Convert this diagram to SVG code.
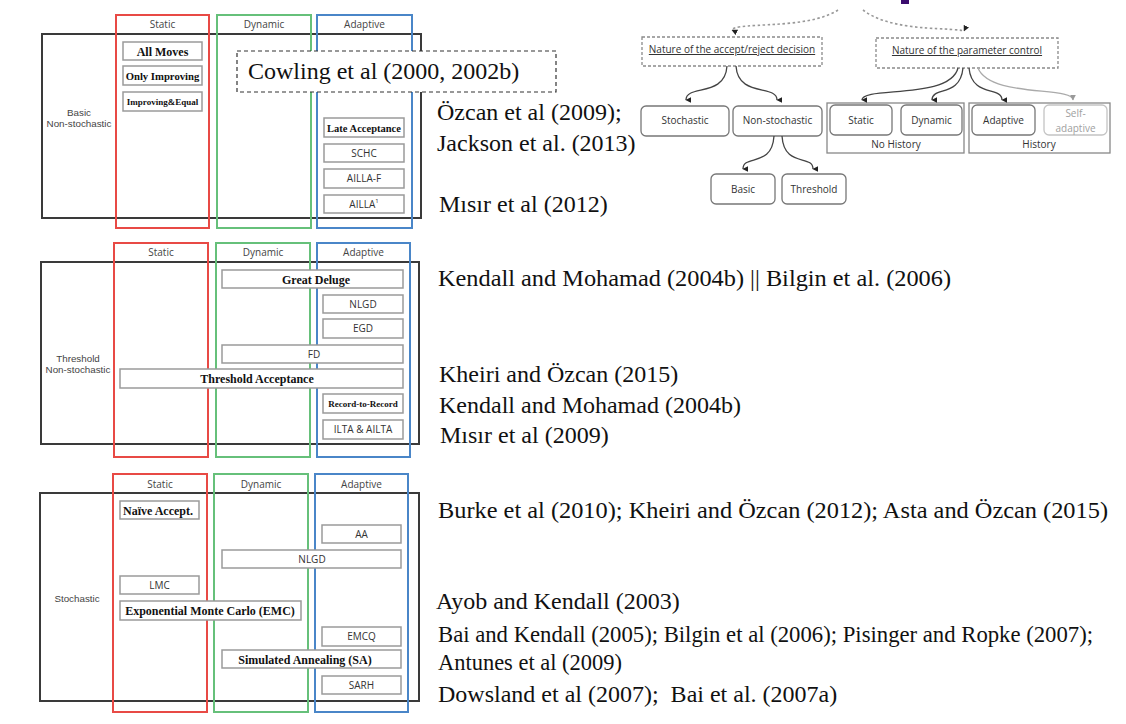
<svg xmlns="http://www.w3.org/2000/svg" width="1126" height="724" viewBox="0 0 1126 724">
<defs>
<style>
.frame{fill:none;stroke:#3a3a3a;stroke-width:2}
.red{fill:none;stroke:#e84a45;stroke-width:2}
.green{fill:none;stroke:#66c07a;stroke-width:2}
.blue{fill:none;stroke:#4a86c8;stroke-width:2}
.box{fill:#fff;stroke:#9a9a9a;stroke-width:1.5}
.hdr{font-family:"Open Sans",sans-serif;font-size:10px;fill:#444;text-anchor:middle}
.lbl{font-family:"Liberation Sans",Arial,sans-serif;font-size:9.8px;fill:#444;text-anchor:middle}
.bs{font-family:"Liberation Serif",serif;font-weight:bold;fill:#111;text-anchor:middle}
.ss{font-family:"Open Sans",sans-serif;font-size:10px;fill:#333;text-anchor:middle}
.ref{font-family:"Liberation Serif",serif;font-size:24px;fill:#111}
.dash{fill:#fff;stroke:#333;stroke-width:1.2;stroke-dasharray:4,3}
.tdash{fill:none;stroke:#8a8a8a;stroke-width:1.3;stroke-dasharray:3,2}
.tbox{fill:#fff;stroke:#777;stroke-width:1.3}
.tgrp{fill:none;stroke:#888;stroke-width:1.3}
.tt{font-family:"Open Sans",sans-serif;font-size:10px;fill:#333;text-anchor:middle}
.conn{fill:none;stroke:#444;stroke-width:1.3}
.topd{fill:none;stroke:#999;stroke-width:1.6;stroke-dasharray:2.5,2.5}
</style>
<marker id="ah" viewBox="0 0 10 10" refX="5" refY="9" markerWidth="6" markerHeight="6" markerUnits="userSpaceOnUse" orient="auto-start-reverse">
<path d="M0,0 L10,0 L5,10 z" fill="#222"/>
</marker>
<marker id="ahg" viewBox="0 0 10 10" refX="5" refY="9" markerWidth="6" markerHeight="6" markerUnits="userSpaceOnUse">
<path d="M0,0 L10,0 L5,10 z" fill="#999"/>
</marker>
</defs>
<rect width="1126" height="724" fill="#fff"/>

<!-- Panel 1: Basic Non-stochastic -->
<g id="panel-basic">
<rect class="frame" x="42" y="34" width="379" height="184"/>
<rect class="red" x="116" y="15" width="93" height="213"/>
<rect class="green" x="217" y="15" width="94" height="213"/>
<rect class="blue" x="317" y="15" width="95" height="213"/>
<text class="hdr" x="162.5" y="28">Static</text>
<text class="hdr" x="264" y="28">Dynamic</text>
<text class="hdr" x="364.5" y="28">Adaptive</text>
<text class="lbl" x="79" y="115.5">Basic</text>
<text class="lbl" x="79" y="127">Non-stochastic</text>
</g>
<g id="n-allmoves"><rect class="box" x="123" y="42" width="79" height="18"/><text class="bs" x="162.5" y="55.5" font-size="12">All Moves</text></g>
<g id="n-onlyimp"><rect class="box" x="123" y="66" width="79" height="19"/><text class="bs" x="162.5" y="79.5" font-size="10.7">Only Improving</text></g>
<g id="n-impeq"><rect class="box" x="123" y="92" width="79" height="19"/><text class="bs" x="162.5" y="105" font-size="9">Improving&amp;Equal</text></g>
<g id="n-late"><rect class="box" x="324" y="118" width="80" height="19"/><text class="bs" x="364" y="131.5" font-size="10.5">Late Acceptance</text></g>
<g id="n-schc"><rect class="box" x="324" y="144" width="80" height="18"/><text class="ss" x="364" y="157">SCHC</text></g>
<g id="n-aillaf"><rect class="box" x="324" y="169" width="80" height="19"/><text class="ss" x="364" y="182">AILLA-F</text></g>
<g id="n-ailla"><rect class="box" x="324" y="195" width="80" height="18"/><text class="ss" x="364" y="208">AILLA<tspan font-size="6" dy="-5">1</tspan></text></g>
<g id="n-cowling"><rect class="dash" x="237" y="51" width="319" height="41"/><text class="ref" x="248" y="79">Cowling et al (2000, 2002b)</text></g>

<!-- Panel 2: Threshold Non-stochastic -->
<g id="panel-threshold">
<rect class="frame" x="41" y="262" width="378" height="182"/>
<rect class="red" x="114" y="243" width="94" height="214"/>
<rect class="green" x="216" y="243" width="94" height="214"/>
<rect class="blue" x="317" y="243" width="93" height="214"/>
<text class="hdr" x="161" y="256">Static</text>
<text class="hdr" x="263" y="256">Dynamic</text>
<text class="hdr" x="363.5" y="256">Adaptive</text>
<text class="lbl" x="78" y="361.5">Threshold</text>
<text class="lbl" x="78" y="373">Non-stochastic</text>
</g>
<g id="n-gd"><rect class="box" x="222" y="270" width="181" height="18"/><text class="bs" x="316" y="283.5" font-size="12">Great Deluge</text></g>
<g id="n-nlgd1"><rect class="box" x="323" y="295" width="80" height="18"/><text class="ss" x="363" y="308">NLGD</text></g>
<g id="n-egd"><rect class="box" x="323" y="319" width="80" height="19"/><text class="ss" x="363" y="332">EGD</text></g>
<g id="n-fd"><rect class="box" x="222" y="345" width="181" height="18"/><text class="ss" x="314" y="358">FD</text></g>
<g id="n-ta"><rect class="box" x="120" y="369" width="283" height="19"/><text class="bs" x="257" y="383" font-size="12">Threshold Acceptance</text></g>
<g id="n-rtr"><rect class="box" x="323" y="394" width="80" height="19"/><text class="bs" x="363" y="407" font-size="9">Record-to-Record</text></g>
<g id="n-ilta"><rect class="box" x="323" y="420" width="80" height="19"/><text class="ss" x="363" y="433">ILTA &amp; AILTA</text></g>

<!-- Panel 3: Stochastic -->
<g id="panel-stochastic">
<rect class="frame" x="40" y="493" width="379" height="208"/>
<rect class="red" x="113" y="474" width="94" height="238"/>
<rect class="green" x="214" y="474" width="94" height="238"/>
<rect class="blue" x="315" y="474" width="93" height="238"/>
<text class="hdr" x="160" y="488">Static</text>
<text class="hdr" x="261" y="488">Dynamic</text>
<text class="hdr" x="361.5" y="488">Adaptive</text>
<text class="lbl" x="77" y="602">Stochastic</text>
</g>
<g id="n-naive"><rect class="box" x="120" y="501" width="79" height="18"/><text class="bs" x="158" y="514.5" font-size="12">Naïve Accept.</text></g>
<g id="n-aa"><rect class="box" x="322" y="525" width="79" height="18"/><text class="ss" x="361.5" y="538">AA</text></g>
<g id="n-nlgd2"><rect class="box" x="222" y="550" width="179" height="18"/><text class="ss" x="312" y="563">NLGD</text></g>
<g id="n-lmc"><rect class="box" x="120" y="576" width="79" height="18"/><text class="ss" x="159.5" y="589">LMC</text></g>
<g id="n-emc"><rect class="box" x="120" y="601" width="181" height="19"/><text class="bs" x="210" y="615" font-size="12">Exponential Monte Carlo (EMC)</text></g>
<g id="n-emcq"><rect class="box" x="322" y="627" width="79" height="19"/><text class="ss" x="361.5" y="640">EMCQ</text></g>
<g id="n-sa"><rect class="box" x="222" y="650" width="179" height="18"/><text class="bs" x="305" y="663.5" font-size="12">Simulated Annealing (SA)</text></g>
<g id="n-sarh"><rect class="box" x="322" y="676" width="79" height="18"/><text class="ss" x="361.5" y="689">SARH</text></g>

<!-- References -->
<g id="refs">
<text class="ref" x="437" y="120">Özcan et al (2009);</text>
<text class="ref" x="437" y="151">Jackson et al. (2013)</text>
<text class="ref" x="439" y="212">Mısır et al (2012)</text>
<text class="ref" x="438" y="286" textLength="513" lengthAdjust="spacingAndGlyphs">Kendall and Mohamad (2004b) || Bilgin et al. (2006)</text>
<text class="ref" x="439" y="382">Kheiri and Özcan (2015)</text>
<text class="ref" x="439" y="413">Kendall and Mohamad (2004b)</text>
<text class="ref" x="440" y="443">Mısır et al (2009)</text>
<text class="ref" x="438" y="518" textLength="670" lengthAdjust="spacingAndGlyphs">Burke et al (2010); Kheiri and Özcan (2012); Asta and Özcan (2015)</text>
<text class="ref" x="436" y="609">Ayob and Kendall (2003)</text>
<text class="ref" x="438" y="642" font-size="23" style="font-size:23px" textLength="655" lengthAdjust="spacingAndGlyphs">Bai and Kendall (2005); Bilgin et al (2006); Pisinger and Ropke (2007);</text>
<text class="ref" x="438" y="670" style="font-size:23px" textLength="184" lengthAdjust="spacingAndGlyphs">Antunes et al (2009)</text>
<text class="ref" x="438" y="702" xml:space="preserve">Dowsland et al (2007);  Bai et al. (2007a)</text>
</g>

<!-- Tree -->
<rect x="901" y="0" width="8" height="4" fill="#3b0d6e"/>
<g id="t-accept"><rect class="tdash" x="642" y="37" width="180" height="29"/><text class="tt" x="732" y="53" text-decoration="underline">Nature of the accept/reject decision</text></g>
<g id="t-param"><rect class="tdash" x="876" y="38" width="182" height="30"/><text class="tt" x="967" y="54" text-decoration="underline">Nature of the parameter control</text></g>
<g id="t-stoch"><rect class="tbox" x="641" y="106" width="88" height="30" rx="5"/><text class="tt" x="685" y="124">Stochastic</text></g>
<g id="t-nonstoch"><rect class="tbox" x="733" y="106" width="89" height="30" rx="5"/><text class="tt" x="777.5" y="124">Non-stochastic</text></g>
<g id="t-basic"><rect class="tbox" x="711" y="174" width="64" height="30" rx="5"/><text class="tt" x="743" y="193">Basic</text></g>
<g id="t-threshold"><rect class="tbox" x="782" y="174" width="64" height="30" rx="5"/><text class="tt" x="814" y="193">Threshold</text></g>
<g id="t-nohistory"><rect class="tgrp" x="827" y="103" width="137" height="50"/><text class="tt" x="896" y="148">No History</text></g>
<g id="t-history"><rect class="tgrp" x="969" y="103" width="141" height="50"/><text class="tt" x="1039" y="148">History</text></g>
<g id="t-static"><rect class="tbox" x="830" y="105" width="62" height="30" rx="5"/><text class="tt" x="861" y="124">Static</text></g>
<g id="t-dynamic"><rect class="tbox" x="901" y="105" width="61" height="30" rx="5"/><text class="tt" x="931.5" y="124">Dynamic</text></g>
<g id="t-adaptive"><rect class="tbox" x="972" y="105" width="63" height="30" rx="5"/><text class="tt" x="1003.5" y="124">Adaptive</text></g>
<g id="t-selfadaptive"><rect x="1044" y="105" width="63" height="30" rx="5" fill="#fff" stroke="#c4c4c4" stroke-width="1.3"/><text class="tt" x="1075.5" y="117" style="fill:#a0a0a0">Self-</text><text class="tt" x="1075.5" y="132" style="fill:#a0a0a0">adaptive</text></g>

<g id="connectors">
<path class="topd" d="M838,10 C815,25 770,24 748,26 C736,27 733,28 732,30" marker-end="url(#ah)"/>
<path class="topd" d="M863,10 C885,27 925,28 945,29 C958,30 962,30 964,31" marker-end="url(#ah)"/>
<path class="conn" d="M727,66 C725,98 686,84 686,100" marker-end="url(#ah)"/>
<path class="conn" d="M736,66 C738,98 777,84 777,100" marker-end="url(#ah)"/>
<path class="conn" d="M774,136 C772,168 743,154 743,169" marker-end="url(#ah)"/>
<path class="conn" d="M782,136 C784,168 813,154 813,169" marker-end="url(#ah)"/>
<path class="conn" d="M958,68 C950,100 862,86 862,100" marker-end="url(#ah)"/>
<path class="conn" d="M963,68 C960,98 932,86 932,100" marker-end="url(#ah)"/>
<path class="conn" d="M969,68 C972,98 1002,86 1002,100" marker-end="url(#ah)"/>
<path class="conn" style="stroke:#aaa" d="M978,68 C990,98 1073,86 1073,100" marker-end="url(#ahg)"/>
</g>
</svg>
